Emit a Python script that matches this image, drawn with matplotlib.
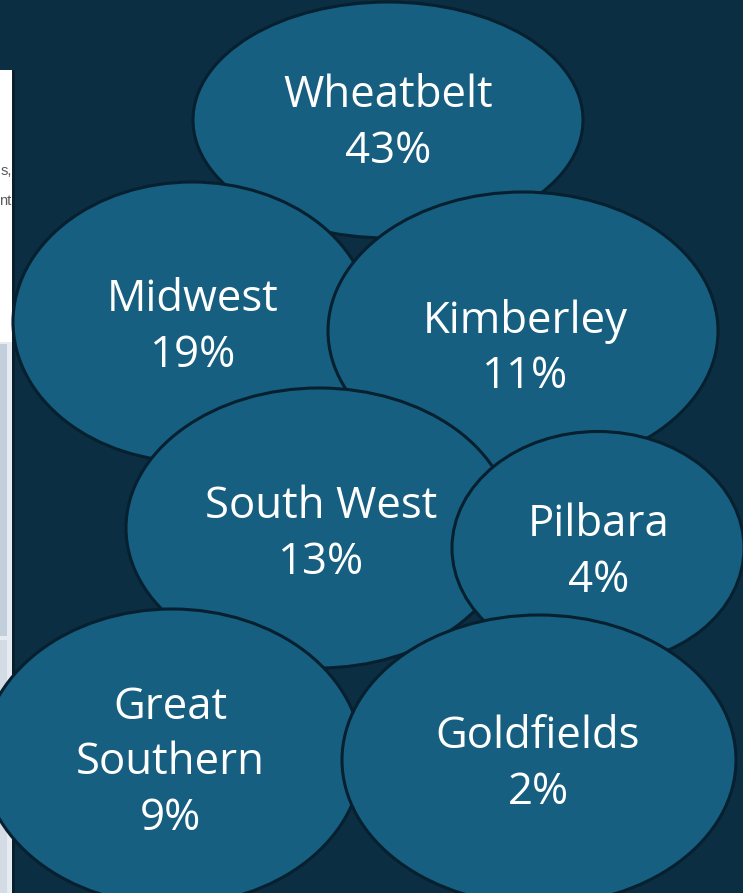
import matplotlib.pyplot as plt
from matplotlib.patches import Ellipse, Rectangle

# Regions and their share
regions = ["Wheatbelt", "Midwest", "Kimberley", "South West", "Pilbara", "Great\nSouthern", "Goldfields"]
shares = [43, 19, 11, 13, 4, 9, 2]

# Bubble layout (pixel space), drawn in this order
centers = [(388, 120), (192, 322), (523, 331), (319, 528), (598, 548), (172, 757), (539, 760)]
sizes = [(390, 236), (358, 280), (390, 278), (386, 280), (292, 233), (380, 296), (394, 290)]
text_pos = [(388, 124), (193, 328), (525, 349), (321, 535), (599, 553), (170, 763), (538, 765)]

bg = "#0b2e42"
fill = "#165f80"
edge = "#06202f"

fig = plt.figure(figsize=(7.43, 8.93), dpi=100)
fig.patch.set_facecolor(bg)
ax = fig.add_axes([0, 0, 1, 1])
ax.set_xlim(0, 743)
ax.set_ylim(893, 0)
ax.axis("off")

# Slide panel peeking in at the left edge
ax.add_patch(Rectangle((0, 70), 15, 823, facecolor="#081f2d", edgecolor="none", zorder=0))
ax.add_patch(Rectangle((0, 70), 11.5, 272, facecolor="white", edgecolor="none", zorder=1))
ax.add_patch(Rectangle((0, 342), 11.5, 551, facecolor="#e6ebf1", edgecolor="none", zorder=1))
ax.add_patch(Rectangle((0, 344), 7, 292, facecolor="#c3cedb", edgecolor="none", zorder=1))
ax.add_patch(Rectangle((0, 640), 7, 253, facecolor="#d3dbe5", edgecolor="none", zorder=1))
for txt, y in [("s,", 171), ("nt", 201)]:
    ax.text(11.5, y, txt, ha="right", va="center", fontsize=10.5, color="#5a5a5a",
            family="Liberation Sans", zorder=2)

for i, (name, share) in enumerate(zip(regions, shares)):
    cx, cy = centers[i]
    w, h = sizes[i]
    ax.add_patch(Ellipse((cx, cy), w, h, facecolor=fill, edgecolor=edge, linewidth=2.2, zorder=3 + i))
    tx, ty = text_pos[i]
    ax.text(tx, ty, f"{name}\n{share}%", ha="center", va="center", fontsize=31.5, color="white",
            family="Open Sans", linespacing=1.33, zorder=3 + i)

fig.savefig("out.png", dpi=100, facecolor=bg)
